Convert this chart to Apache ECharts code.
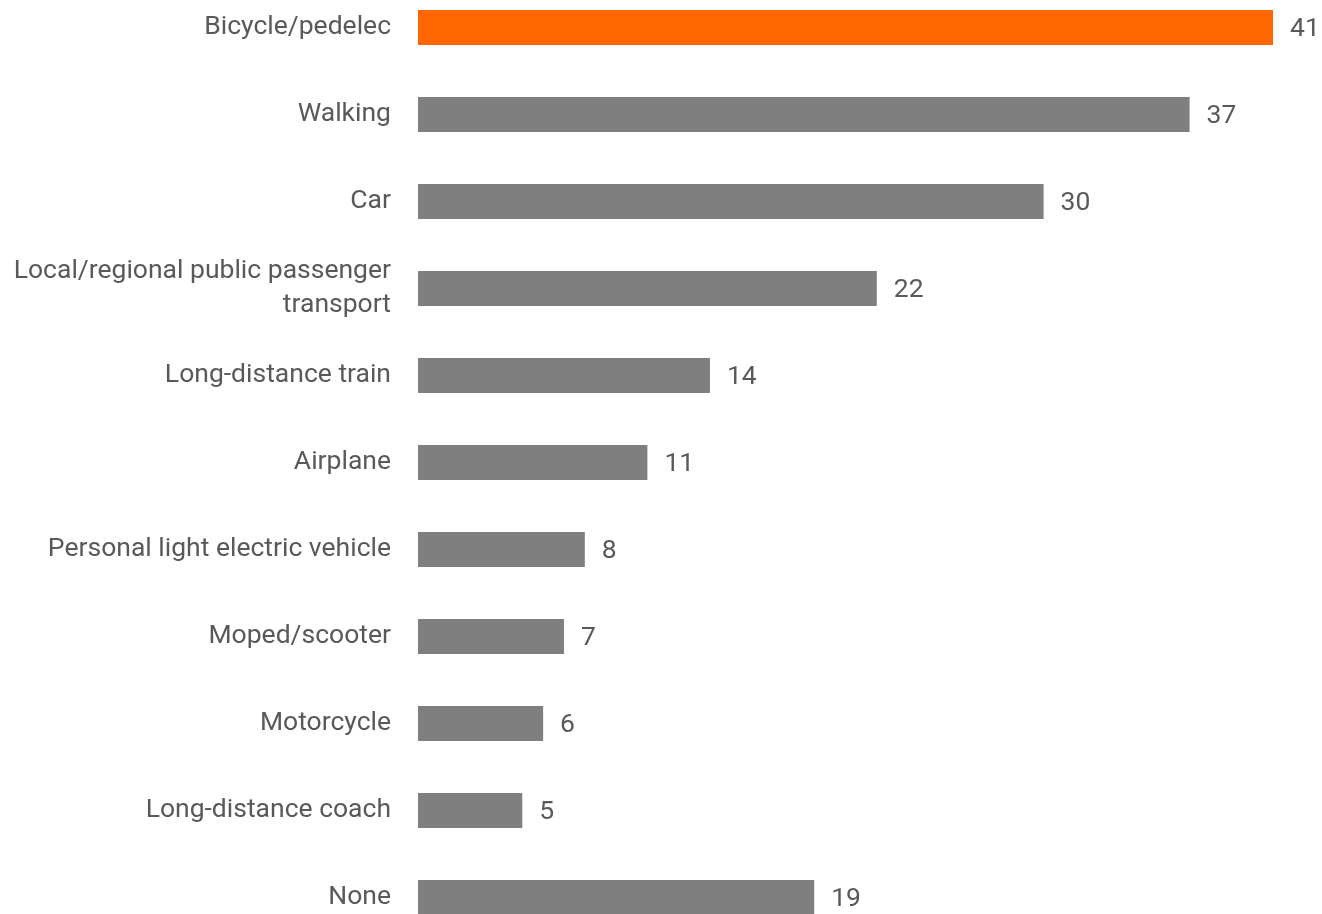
<!DOCTYPE html>
<html>
<head>
<meta charset="utf-8">
<title>Modes of transport</title>
<script src="https://cdn.jsdelivr.net/npm/echarts@6/dist/echarts.min.js"></script>
<style>
  html, body { margin: 0; padding: 0; background: #ffffff; overflow: hidden; width: 1322px; height: 914px; }
  /* the plot runs a little past the top and bottom edges of the page */
  #chart { position: absolute; left: 0; top: -16px; width: 1322px; height: 957px; }
</style>
</head>
<body>
<div id="chart"></div>
<script>
// Modes of transport, share in percent
const categories = [
  'Bicycle/pedelec',
  'Walking',
  'Car',
  'Local/regional public passenger\ntransport',
  'Long-distance train',
  'Airplane',
  'Personal light electric vehicle',
  'Moped/scooter',
  'Motorcycle',
  'Long-distance coach',
  'None'
];
const values = [41, 37, 30, 22, 14, 11, 8, 7, 6, 5, 19];
const highlightIndex = 0;

const ORANGE = '#ff6600';
const GREY = '#7f7f7f';
const TEXT = '#595959';
const FONT = 'Roboto, sans-serif';

const chart = echarts.init(document.getElementById('chart'), null, { renderer: 'canvas' });

chart.setOption({
  animation: false,
  backgroundColor: '#ffffff',
  grid: { left: 418, width: 855, top: 0, bottom: 0, containLabel: false },
  xAxis: {
    type: 'value',
    min: 0,
    max: 41,
    show: false
  },
  yAxis: {
    type: 'category',
    inverse: true,
    data: categories,
    axisLine: { show: false },
    axisTick: { show: false },
    splitLine: { show: false },
    axisLabel: {
      margin: 27,
      color: TEXT,
      fontFamily: FONT,
      fontSize: 26.5,
      lineHeight: 34,
      align: 'right',
      padding: [4, 0, 0, 0]
    }
  },
  series: [{
    type: 'bar',
    barWidth: 35,
    data: values.map((v, i) => ({
      value: v,
      itemStyle: { color: i === highlightIndex ? ORANGE : GREY }
    })),
    label: {
      show: true,
      position: 'right',
      distance: 17,
      offset: [0, 2],
      color: TEXT,
      fontFamily: FONT,
      fontSize: 26.5
    }
  }]
});
</script>
</body>
</html>
